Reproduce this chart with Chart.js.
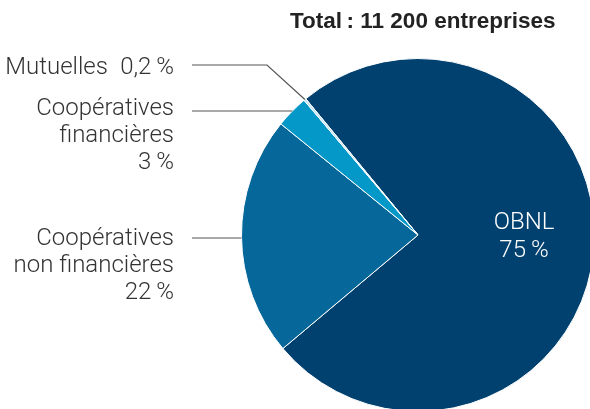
<!DOCTYPE html>
<html>
<head>
<meta charset="utf-8">
<script src="https://cdn.jsdelivr.net/npm/chart.js@4/dist/chart.umd.min.js"></script>
<style>
  html, body { margin: 0; padding: 0; background: #fff; overflow: hidden; }
  #wrap { position: absolute; left: 0; top: 0; width: 620px; height: 430px; }
</style>
</head>
<body>
<div id="wrap"><canvas id="pieChart" width="620" height="430"></canvas></div>
<script>
// Data
const categories = ['OBNL', 'Coopératives non financières', 'Coopératives financières', 'Mutuelles'];
const shares = [75, 22, 3, 0.2];
const shareLabels = ['75\u2009%', '22\u2009%', '3\u2009%', '0,2\u2009%'];
const sliceColors = ['#00416f', '#05679a', '#0398c8', '#bfe1f1'];
const title = 'Total\u2009: 11 200 entreprises';

// text lines shown for each slice
const labelLines = [
  ['OBNL', shareLabels[0]],
  ['Coopératives', 'non financières', shareLabels[1]],
  ['Coopératives', 'financières', shareLabels[2]],
  ['Mutuelles\u2002' + shareLabels[3]]
];

// label layout on the left (first line y, leader line y)
const labelLayout = [
  null,
  { textY: 239, lineY: 238 },
  { textY: 109, lineY: 111 },
  { textY: 68, lineY: 65 }
];

const calloutPlugin = {
  id: 'callouts',
  afterDraw(chart) {
    const ctx = chart.ctx;
    const meta = chart.getDatasetMeta(0);
    const arc0 = meta.data[0];
    const cx = arc0.x, cy = arc0.y, r = arc0.outerRadius;
    const textRight = 174, lineStart = 192, lh = 27;

    ctx.save();
    // title
    ctx.fillStyle = '#222';
    ctx.font = 'bold 22.5px "Liberation Sans", Arial, sans-serif';
    ctx.textAlign = 'left';
    ctx.textBaseline = 'middle';
    ctx.fillText(title, 290, 22);

    // inside label (OBNL)
    ctx.fillStyle = '#fff';
    ctx.font = '300 24px Roboto, "Liberation Sans", sans-serif';
    ctx.textAlign = 'center';
    labelLines[0].forEach((t, i) => ctx.fillText(t, 524, 223 + i * 28));

    // outside labels + leader lines
    ctx.strokeStyle = '#555';
    ctx.lineWidth = 1.2;
    for (let i = 1; i < categories.length; i++) {
      const lay = labelLayout[i];
      ctx.fillStyle = '#333';
      ctx.textAlign = 'right';
      labelLines[i].forEach((t, k) => ctx.fillText(t, textRight, lay.textY + k * lh));

      ctx.beginPath();
      ctx.moveTo(lineStart, lay.lineY);
      if (categories[i] === 'Mutuelles') {
        const a = meta.data[i];
        const mid = (a.startAngle + a.endAngle) / 2;
        const ex = cx + Math.cos(mid) * r, ey = cy + Math.sin(mid) * r;
        ctx.lineTo(267, lay.lineY);
        ctx.lineTo(ex, ey);
      } else {
        const dy = lay.lineY - cy;
        ctx.lineTo(cx - Math.sqrt(r * r - dy * dy), lay.lineY);
      }
      ctx.stroke();
    }
    ctx.restore();
  }
};

const ctx = document.getElementById('pieChart').getContext('2d');
const pieChart = new Chart(ctx, {
  type: 'pie',
  data: {
    labels: categories,
    datasets: [{
      data: shares,
      backgroundColor: sliceColors,
      borderColor: '#ffffff',
      borderWidth: 1
    }]
  },
  options: {
    responsive: false,
    animation: false,
    rotation: -39.5, // start of OBNL slice
    layout: {
      padding: { left: 241, right: 25, top: 58, bottom: 18 }
    },
    plugins: {
      legend: { display: false },
      tooltip: { enabled: false }
    }
  },
  plugins: [calloutPlugin]
});
</script>
</body>
</html>
